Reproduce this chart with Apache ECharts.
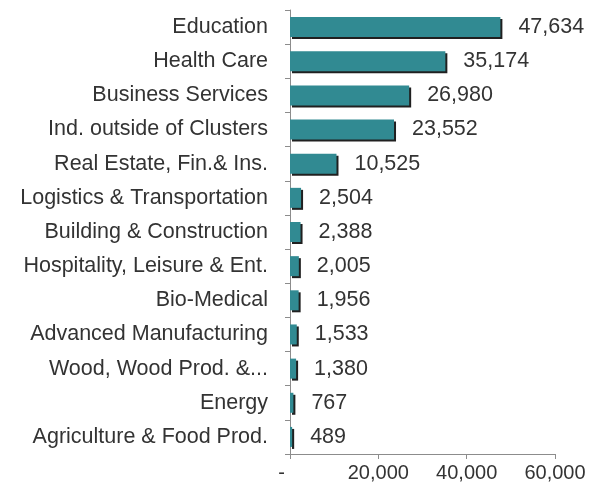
<!DOCTYPE html>
<html>
<head>
<meta charset="utf-8">
<script src="https://cdn.jsdelivr.net/npm/echarts@6/dist/echarts.min.js"></script>
<style>
  html, body { margin: 0; padding: 0; background: #fff; }
  #chart { width: 595px; height: 489px; }
</style>
</head>
<body>
<div id="chart"></div>
<script>
// Employment by industry cluster
const categories = [
  'Education',
  'Health Care',
  'Business Services',
  'Ind. outside of Clusters',
  'Real Estate, Fin.& Ins.',
  'Logistics & Transportation',
  'Building & Construction',
  'Hospitality, Leisure & Ent.',
  'Bio-Medical',
  'Advanced Manufacturing',
  'Wood, Wood Prod. &...',
  'Energy',
  'Agriculture & Food Prod.'
];
const employment = [47634, 35174, 26980, 23552, 10525, 2504, 2388, 2005, 1956, 1533, 1380, 767, 489];
const xTicks = [0, 20000, 40000, 60000];

const fmt = v => v.toLocaleString('en-US');
const font = '"Liberation Sans", Arial, sans-serif';
const textColor = '#333333';
const axisColor = '#8c8c8c';

const chart = echarts.init(document.getElementById('chart'), null, { renderer: 'canvas' });
chart.setOption({
  animation: false,
  backgroundColor: '#ffffff',
  grid: { left: 290, right: 40, top: 10, bottom: 35, containLabel: false },
  xAxis: {
    type: 'value',
    min: xTicks[0],
    max: xTicks[xTicks.length - 1],
    interval: xTicks[1] - xTicks[0],
    splitLine: { show: false },
    axisLine: { show: true, lineStyle: { color: axisColor, width: 1 } },
    axisTick: { show: true, length: 5, lineStyle: { color: axisColor } },
    axisLabel: {
      margin: 9,
      color: textColor,
      fontFamily: font,
      fontSize: 20,
      formatter: v => (v === 0 ? '-   ' : fmt(v))
    }
  },
  yAxis: {
    type: 'category',
    data: categories,
    inverse: true,
    axisLine: { show: true, lineStyle: { color: axisColor, width: 1 } },
    axisTick: { show: true, length: 5, alignWithLabel: false, lineStyle: { color: axisColor } },
    axisLabel: {
      margin: 22,
      color: textColor,
      fontFamily: font,
      fontSize: 21.5
    }
  },
  series: [{
    type: 'bar',
    data: employment,
    barWidth: 20,
    itemStyle: {
      color: '#318a92',
      shadowColor: 'rgba(20,20,20,0.95)',
      shadowBlur: 0,
      shadowOffsetX: 2,
      shadowOffsetY: 2
    },
    label: {
      show: true,
      position: 'right',
      distance: 18,
      color: textColor,
      fontFamily: font,
      fontSize: 21.5,
      formatter: p => fmt(p.value)
    }
  }]
});
</script>
</body>
</html>
